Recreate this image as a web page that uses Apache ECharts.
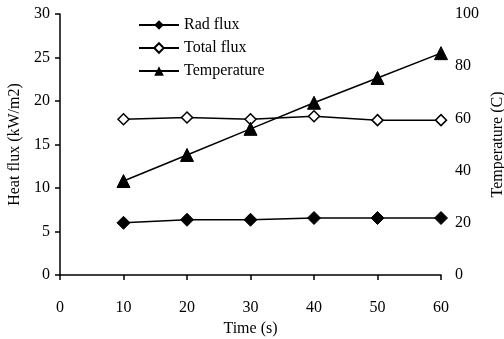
<!DOCTYPE html>
<html>
<head>
<meta charset="utf-8">
<script src="https://cdn.jsdelivr.net/npm/echarts@6/dist/echarts.min.js"></script>
<style>
html, body { margin: 0; padding: 0; background: #fff; }
#chart { width: 504px; height: 339px; }
</style>
</head>
<body>
<div id="chart"></div>
<script>
var times = [10, 20, 30, 40, 50, 60];
var radFlux = [6.0, 6.35, 6.35, 6.55, 6.55, 6.55];
var totalFlux = [17.9, 18.1, 17.9, 18.25, 17.8, 17.8];
var temperature = [36, 46, 56, 66, 75.5, 85];

function pairs(ys) {
    var out = [];
    for (var i = 0; i < times.length; i++) {
        out.push([times[i], ys[i]]);
    }
    return out;
}

var chart = echarts.init(document.getElementById('chart'));
var font = 'Liberation Serif';
var black = '#000';

var option = {
    backgroundColor: '#fff',
    animation: false,
    textStyle: { fontFamily: font, color: black },
    grid: { left: 60, right: 63, top: 14, bottom: 64, outerBoundsMode: 'none' },
    legend: {
        orient: 'vertical',
        left: 133,
        top: 12,
        itemWidth: 40,
        itemHeight: 12,
        itemGap: 7,
        textStyle: { fontFamily: font, fontSize: 16, color: black },
        data: ['Rad flux', 'Total flux', 'Temperature']
    },
    xAxis: {
        type: 'value',
        min: 0,
        max: 60,
        interval: 10,
        name: 'Time (s)',
        nameLocation: 'middle',
        nameGap: 46,
        nameTextStyle: { fontFamily: font, fontSize: 16, color: black },
        axisLine: { lineStyle: { color: black, width: 1.5 } },
        axisTick: { length: 5, lineStyle: { color: black, width: 1.5 } },
        axisLabel: { fontFamily: font, fontSize: 16, color: black, margin: 25 },
        splitLine: { show: false }
    },
    yAxis: [
        {
            type: 'value',
            min: 0,
            max: 30,
            interval: 5,
            name: 'Heat flux (kW/m2)',
            nameLocation: 'middle',
            nameGap: 37,
            nameTextStyle: { fontFamily: font, fontSize: 16, color: black },
            axisLine: { show: true, lineStyle: { color: black, width: 1.5 } },
            axisTick: { show: true, length: 5, lineStyle: { color: black, width: 1.5 } },
            axisLabel: { fontFamily: font, fontSize: 16, color: black, margin: 10 },
            splitLine: { show: false }
        },
        {
            type: 'value',
            min: 0,
            max: 100,
            interval: 20,
            position: 'right',
            name: 'Temperature (C)',
            nameLocation: 'middle',
            nameRotate: 90,
            nameGap: 49,
            nameTextStyle: { fontFamily: font, fontSize: 16, color: black },
            axisLine: { show: false },
            axisTick: { show: false },
            axisLabel: { fontFamily: font, fontSize: 16, color: black, margin: 14 },
            splitLine: { show: false }
        }
    ],
    series: [
        {
            name: 'Rad flux',
            type: 'line',
            yAxisIndex: 0,
            data: pairs(radFlux),
            symbol: 'diamond',
            symbolSize: 13,
            lineStyle: { color: black, width: 1.5 },
            itemStyle: { color: black, borderColor: black }
        },
        {
            name: 'Total flux',
            type: 'line',
            yAxisIndex: 0,
            data: pairs(totalFlux),
            symbol: 'diamond',
            symbolSize: 11,
            lineStyle: { color: black, width: 1.5 },
            itemStyle: { color: '#fff', borderColor: black, borderWidth: 1.5 }
        },
        {
            name: 'Temperature',
            type: 'line',
            yAxisIndex: 1,
            data: pairs(temperature),
            symbol: 'triangle',
            symbolSize: 13,
            lineStyle: { color: black, width: 1.5 },
            itemStyle: { color: black, borderColor: black }
        }
    ]
};

chart.setOption(option);
</script>
</body>
</html>
